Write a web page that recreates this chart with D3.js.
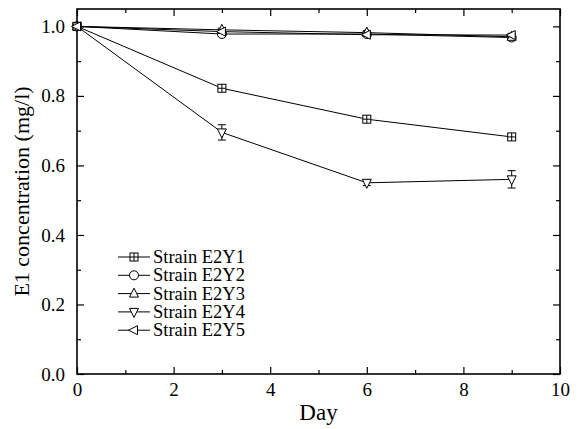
<!DOCTYPE html>
<html><head><meta charset="utf-8">
<script src="https://cdn.jsdelivr.net/npm/d3@7"></script>
<style>body{margin:0;background:#fff}svg{display:block}svg text{font-family:"Liberation Serif",serif !important;fill:#000}</style>
</head><body><svg id="c" width="578" height="429"></svg>
<script>
const days = [0, 3, 6, 9];
const seriesNames = ["Strain E2Y1","Strain E2Y2","Strain E2Y3","Strain E2Y4","Strain E2Y5"];
const markers = ["squarecross","circle","up","down","left"];
const e2y1 = [1.0, 0.822, 0.733, 0.682];
const e2y2 = [1.0, 0.978, 0.978, 0.968];
const e2y3 = [1.0, 0.990, 0.982, 0.970];
const e2y4 = [1.0, 0.695, 0.550, 0.560];
const e2y5 = [1.0, 0.985, 0.976, 0.975];
const e2y1Err = [0, 0.005, 0.005, 0.005];
const e2y2Err = [0, 0.005, 0.005, 0.005];
const e2y3Err = [0, 0.005, 0.005, 0.008];
const e2y4Err = [0, 0.022, 0.008, 0.025];
const e2y5Err = [0, 0.005, 0.005, 0.005];
const xTicks = [0,2,4,6,8,10];
const yTicks = [0,0.2,0.4,0.6,0.8,1.0];
const allVals = [e2y1,e2y2,e2y3,e2y4,e2y5];
const allErr = [e2y1Err,e2y2Err,e2y3Err,e2y4Err,e2y5Err];

const svg = d3.select("#c");
const L=77,R=560,T=9,B=374;
const x = d3.scaleLinear().domain([0,10]).range([L,R]);
const y = d3.scaleLinear().domain([0,1.05]).range([B,T]);

const g = svg.append("g");
g.append("rect").attr("x",L).attr("y",T).attr("width",R-L).attr("height",B-T)
 .attr("fill","none").attr("stroke","#000").attr("stroke-width",1.6);

const xAxB = d3.axisBottom(x).tickValues(xTicks).tickSize(-7).tickPadding(9).tickFormat(d3.format("d"));
const xAxBm = d3.axisBottom(x).tickValues(d3.range(1,10,2)).tickSize(-4).tickFormat("");
const xAxT = d3.axisTop(x).tickValues(xTicks).tickSize(-7).tickFormat("");
const xAxTm = d3.axisTop(x).tickValues(d3.range(1,10,2)).tickSize(-4).tickFormat("");
const yAxL = d3.axisLeft(y).tickValues(yTicks).tickSize(-7).tickPadding(12).tickFormat(d3.format(".1f"));
const yAxLm = d3.axisLeft(y).tickValues([0.1,0.3,0.5,0.7,0.9]).tickSize(-4).tickFormat("");
const yAxR = d3.axisRight(y).tickValues(yTicks).tickSize(-7).tickFormat("");
const yAxRm = d3.axisRight(y).tickValues([0.1,0.3,0.5,0.7,0.9]).tickSize(-4).tickFormat("");
function styl(sel){sel.attr("font-family",null).attr("font-size",null);sel.select(".domain").remove();sel.selectAll("line").attr("stroke","#000").attr("stroke-width",1.2);sel.selectAll("text").attr("font-size",19);}
g.append("g").attr("transform",`translate(0,${B})`).call(xAxB).call(styl);
g.append("g").attr("transform",`translate(0,${B})`).call(xAxBm).call(styl);
g.append("g").attr("transform",`translate(0,${T})`).call(xAxT).call(styl);
g.append("g").attr("transform",`translate(0,${T})`).call(xAxTm).call(styl);
g.append("g").attr("transform",`translate(${L},0)`).call(yAxL).call(styl);
g.append("g").attr("transform",`translate(${L},0)`).call(yAxLm).call(styl);
g.append("g").attr("transform",`translate(${R},0)`).call(yAxR).call(styl);
g.append("g").attr("transform",`translate(${R},0)`).call(yAxRm).call(styl);

svg.append("text").attr("x",(L+R)/2).attr("y",420).attr("text-anchor","middle").attr("font-size",23).text("Day");
svg.append("text").attr("transform",`translate(29,${(T+B)/2}) rotate(-90)`).attr("text-anchor","middle").attr("font-size",22).text("E1 concentration (mg/l)");

function drawMarker(sel,type,cx,cy){
  const s=4.5;
  let m;
  if(type==="squarecross"){
    const gg=sel.append("g");
    gg.append("rect").attr("x",cx-s+0.5).attr("y",cy-s+0.5).attr("width",2*s-1).attr("height",2*s-1).attr("fill","#fff").attr("stroke","#000");
    gg.append("path").attr("d",`M${cx-s+0.5},${cy}H${cx+s-0.5}M${cx},${cy-s+0.5}V${cy+s-0.5}`).attr("stroke","#000").attr("fill","none");
    return;
  }
  if(type==="circle") m=sel.append("circle").attr("cx",cx).attr("cy",cy).attr("r",s);
  if(type==="up") m=sel.append("path").attr("d",`M${cx},${cy-s-1}L${cx+s},${cy+s-1}L${cx-s},${cy+s-1}Z`);
  if(type==="down") m=sel.append("path").attr("d",`M${cx},${cy+s+1}L${cx+s},${cy-s+1}L${cx-s},${cy-s+1}Z`);
  if(type==="left") m=sel.append("path").attr("d",`M${cx-s-1},${cy}L${cx+s-1},${cy-s}L${cx+s-1},${cy+s}Z`);
  m.attr("fill","#fff").attr("stroke","#000").attr("stroke-width",1);
}

const line = d3.line().x((d,i)=>x(days[i])).y(d=>y(d));
allVals.forEach(vals=>{
  svg.append("path").attr("d",line(vals)).attr("fill","none").attr("stroke","#000").attr("stroke-width",1);
});
allVals.forEach((vals,si)=>{
  const sg=svg.append("g");
  vals.forEach((v,i)=>{
    const e=allErr[si][i];
    if(e>0){
      const cx=x(days[i]);
      sg.append("path").attr("d",`M${cx},${y(v-e)}V${y(v+e)}M${cx-4},${y(v+e)}H${cx+4}M${cx-4},${y(v-e)}H${cx+4}`).attr("stroke","#000").attr("fill","none");
    }
    drawMarker(sg,markers[si],x(days[i]),y(v));
  });
});

const lg=svg.append("g");
seriesNames.forEach((n,i)=>{
  const yy=257+i*18.3;
  lg.append("line").attr("x1",118).attr("x2",150).attr("y1",yy).attr("y2",yy).attr("stroke","#000");
  drawMarker(lg,markers[i],134,yy);
  lg.append("text").attr("x",153).attr("y",yy+6).attr("font-size",18.5).text(n);
});
</script></body></html>
